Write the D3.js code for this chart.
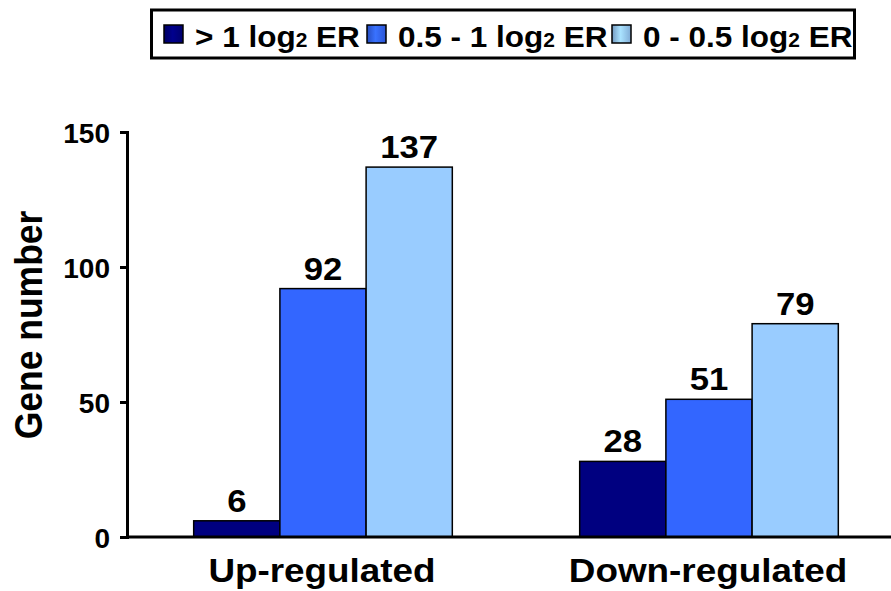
<!DOCTYPE html>
<html lang="en">
<head>
  <meta charset="UTF-8">
  <title>Gene number</title>
  <style>
    body { margin: 0; background: #fff; }
    svg text { font-family: "Liberation Sans", Arial, sans-serif; font-weight: bold; }
  </style>
</head>
<body>
<svg id="svg" width="891" height="591"></svg>
<script src="https://d3js.org/d3.v7.min.js"></script>
<script>
  const groups = ['Up-regulated', 'Down-regulated']
  const seriesNames = ['> 1', '0.5 - 1', '0 - 0.5']
  const seriesColors = ['#000080', '#3366ff', '#99ccff']
  const over1 = [6, 28]
  const half1 = [92, 51]
  const zeroHalf = [137, 79]
  const yTicks = [0, 50, 100, 150]

  const series = [over1, half1, zeroHalf]
  const svg = d3.select('#svg')

  const xScale = d3.scaleBand()
    .domain(groups)
    .range([130, 902])
    .paddingInner(0.33)
    .paddingOuter(0.165)
  const subScale = d3.scaleBand()
    .domain(d3.range(series.length))
    .range([0, xScale.bandwidth()])
  const yScale = d3.scaleLinear()
    .domain([0, 150])
    .range([537, 132])

  // the original picture is a bit wider than tall, so text gets stretched a little
  const stretch = (x, y, sx) => `translate(${x},${y}) scale(${sx},1)`

  // bars
  series.forEach((vals, s) => {
    const g = svg.append('g')
    g.selectAll('rect')
      .data(vals)
      .enter()
      .append('rect')
      .attr('x', (d, i) => xScale(groups[i]) + subScale(s))
      .attr('y', d => yScale(d))
      .attr('width', subScale.bandwidth())
      .attr('height', d => yScale(0) - yScale(d))
      .attr('fill', seriesColors[s])
      .attr('stroke', '#000')
      .attr('stroke-width', 1.5)
    g.selectAll('text')
      .data(vals)
      .enter()
      .append('text')
      .text(d => d)
      .attr('transform', (d, i) => stretch(xScale(groups[i]) + subScale(s) + subScale.bandwidth() / 2, yScale(d) - 9, 1.12))
      .attr('text-anchor', 'middle')
      .style('font-size', '31px')
  })

  // y axis
  const yAxis = svg.append('g')
    .attr('transform', 'translate(127,0)')
    .call(d3.axisLeft(yScale).tickValues(yTicks).tickSize(7).tickPadding(10))
  yAxis.select('.domain').attr('stroke', '#000').attr('stroke-width', 3)
  yAxis.selectAll('.tick line').attr('stroke', '#000').attr('stroke-width', 3)
  yAxis.selectAll('.tick text')
    .style('font-size', '28px')
    .style('font-family', '"Liberation Sans", Arial, sans-serif')
    .style('font-weight', 'bold')
    .attr('fill', '#000')
    .attr('dy', '0.36em')

  // x axis line
  svg.append('line')
    .attr('x1', 127).attr('x2', 891)
    .attr('y1', yScale(0)).attr('y2', yScale(0))
    .attr('stroke', '#000')
    .attr('stroke-width', 3)

  svg.selectAll('.xlabel')
    .data(groups)
    .enter()
    .append('text')
    .attr('class', 'xlabel')
    .text(d => d)
    .attr('transform', d => stretch(xScale(d) + xScale.bandwidth() / 2 - 1, 582, 1.1))
    .attr('text-anchor', 'middle')
    .style('font-size', '33.5px')

  svg.append('text')
    .text('Gene number')
    .attr('transform', stretch(42, 325, 1.1) + ' rotate(-90)')
    .attr('text-anchor', 'middle')
    .style('font-size', '35.5px')

  // legend
  const defs = svg.append('defs')
  seriesColors.forEach((c, i) => {
    const grad = defs.append('linearGradient').attr('id', 'lg' + i)
    grad.append('stop').attr('offset', '0%').attr('stop-color', d3.color(c).darker(0.8))
    grad.append('stop').attr('offset', '45%').attr('stop-color', d3.color(c).brighter(0.3))
    grad.append('stop').attr('offset', '100%').attr('stop-color', d3.color(c).darker(0.5))
  })
  svg.append('rect')
    .attr('x', 151.5).attr('y', 10)
    .attr('width', 703).attr('height', 48)
    .attr('fill', '#fff')
    .attr('stroke', '#000')
    .attr('stroke-width', 3)
  const legX = [164, 367, 612]
  const legend = svg.selectAll('.leg')
    .data(seriesNames)
    .enter()
    .append('g')
    .attr('class', 'leg')
    .attr('transform', (d, i) => `translate(${legX[i]},0)`)
  legend.append('rect')
    .attr('x', 0).attr('y', 25)
    .attr('width', 19).attr('height', 18)
    .attr('fill', (d, i) => 'url(#lg' + i + ')')
    .attr('stroke', '#000')
    .attr('stroke-width', 1.5)
  const lt = legend.append('text')
    .attr('transform', stretch(31, 47, 1.05))
    .style('font-size', '30px')
  lt.append('tspan').text(d => d + ' log')
  lt.append('tspan').text('2').style('font-size', '20px')
  lt.append('tspan').text(' ER')
</script>
</body>
</html>
